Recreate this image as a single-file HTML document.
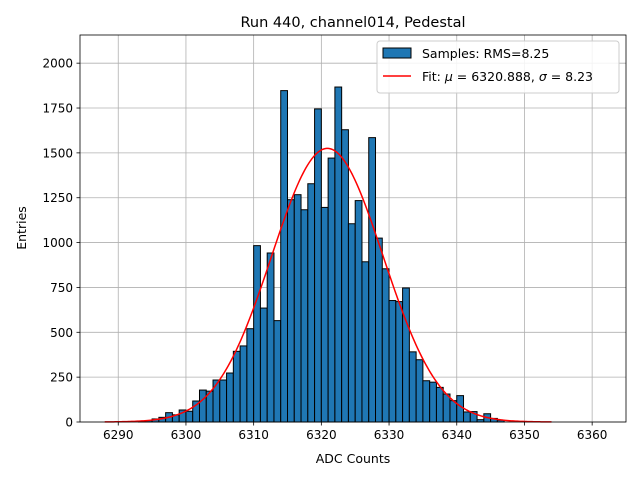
<!DOCTYPE html>
<html><head><meta charset="utf-8"><style>
body{margin:0;background:#fff;font-family:"Liberation Sans","DejaVu Sans",sans-serif}
svg text{font-family:"DejaVu Sans","Liberation Sans",sans-serif}
</style></head><body>
<svg id="chart" width="640" height="480" xmlns="http://www.w3.org/2000/svg">
<rect width="640" height="480" fill="#fff"/>
<g id="grid"></g>
<g id="bars"></g>
<g id="fit"></g>
<g id="axes"></g>
<text x="353" y="27" font-size="14.5" text-anchor="middle">Run 440, channel014, Pedestal</text>
<text x="353" y="463" font-size="12.5" text-anchor="middle">ADC Counts</text>
<text transform="translate(26,228) rotate(-90)" font-size="12.5" text-anchor="middle">Entries</text>
<g>
<rect x="377" y="41" width="242" height="52" rx="3" fill="#fff" fill-opacity="0.85" stroke="#ccc"/>
<rect x="383" y="48" width="28" height="10" fill="#1f77b4" stroke="#000"/>
<text x="422" y="58" font-size="12.5">Samples: RMS=8.25</text>
<line x1="383" y1="76" x2="411" y2="76" stroke="red" stroke-width="1.5"/>
<text x="422" y="81" font-size="12.5">Fit: <tspan font-style="italic">μ</tspan> = 6320.888, <tspan font-style="italic">σ</tspan> = 8.23</text>
</g>
</svg>
<script>
const binStarts=[6293,6294,6295,6296,6297,6298,6299,6300,6301,6302,6303,6304,6305,6306,6307,6308,6309,6310,6311,6312,6313,6314,6315,6316,6317,6318,6319,6320,6321,6322,6323,6324,6325,6326,6327,6328,6329,6330,6331,6332,6333,6334,6335,6336,6337,6338,6339,6340,6341,6342,6343,6344,6345,6346];
const counts=[4,8,17,26,52,40,67,60,117,178,172,234,234,273,394,424,520,983,635,942,565,1847,1239,1267,1183,1328,1745,1196,1471,1867,1629,1105,1234,893,1585,1025,854,677,671,747,391,347,230,222,193,156,119,147,56,58,13,46,20,10];
const xTicks=[6290,6300,6310,6320,6330,6340,6350,6360];
const yTicks=[0,250,500,750,1000,1250,1500,1750,2000];
const fitMu=6320.888, fitSigma=8.23, fitAmp=1525, fitMin=6288, fitMax=6354;
const L=80,R=626,T=35,B=422;
const xMin=6284.35,xMax=6365.0,yMax=2157;
const X=v=>L+(v-xMin)/(xMax-xMin)*(R-L);
const Y=v=>B-v/yMax*(B-T);
const NS='http://www.w3.org/2000/svg';
function mk(p,t,a){const e=document.createElementNS(NS,t);for(const k in a)e.setAttribute(k,a[k]);p.appendChild(e);return e;}
const grid=document.getElementById('grid'),axes=document.getElementById('axes'),bars=document.getElementById('bars'),fit=document.getElementById('fit');
xTicks.forEach(t=>{const x=X(t);
const g=mk(grid,'line',{x1:x,x2:x,y1:T,y2:B,stroke:'#b0b0b0','stroke-width':0.8});


mk(axes,'line',{x1:x,x2:x,y1:B,y2:B+3.5,stroke:'#000','stroke-width':0.8});
const tx=mk(axes,'text',{x:x,y:B+17,'font-size':12,'text-anchor':'middle'});tx.textContent=t;

});
yTicks.forEach(t=>{const y=Y(t);
const g=mk(grid,'line',{x1:L,x2:R,y1:y,y2:y,stroke:'#b0b0b0','stroke-width':0.8});


mk(axes,'line',{x1:L-3.5,x2:L,y1:y,y2:y,stroke:'#000','stroke-width':0.8});
const tx=mk(axes,'text',{x:L-7,y:y+4.5,'font-size':12,'text-anchor':'end'});tx.textContent=t;

});
binStarts.forEach((b,i)=>{const x0=X(b),x1=X(b+1),y=Y(counts[i]);
const r=mk(bars,'rect',{x:x0,y:y,width:x1-x0,height:B-y,fill:'#1f77b4',stroke:'#000','stroke-width':1});

});
let d='';for(let i=0;i<=300;i++){const v=fitMin+(fitMax-fitMin)*i/300;const c=fitAmp*Math.exp(-0.5*((v-fitMu)/fitSigma)**2);d+=(i?'L':'M')+X(v).toFixed(2)+','+Y(c).toFixed(2);}
const p=mk(fit,'path',{d:d,fill:'none',stroke:'red','stroke-width':1.5});


const f=mk(axes,'rect',{x:L,y:T,width:R-L,height:B-T,fill:'none',stroke:'#000','stroke-width':0.8});


</script>
</body></html>
